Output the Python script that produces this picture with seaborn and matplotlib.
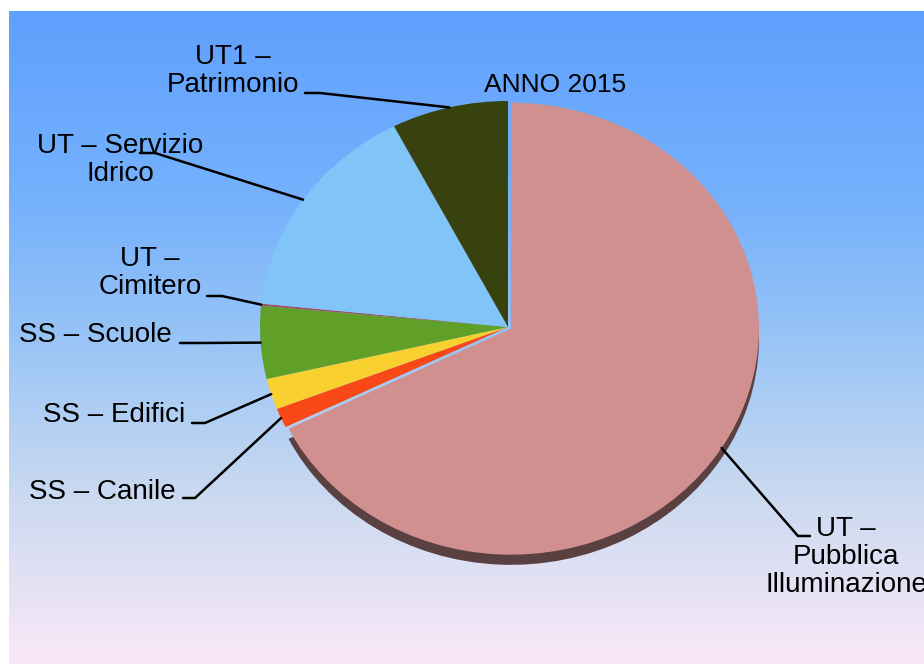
import numpy as np
import matplotlib
matplotlib.use("Agg")
import matplotlib.pyplot as plt
import seaborn as sns
from matplotlib.colors import LinearSegmentedColormap

# ---- data ----
categories = ["UT – Pubblica Illuminazione", "SS – Canile", "SS – Edifici", "SS – Scuole",
              "UT – Cimitero", "UT – Servizio Idrico", "UT1 – Patrimonio"]
labels = ["UT –\nPubblica\nIlluminazione", "SS – Canile", "SS – Edifici", "SS – Scuole",
          "UT –\nCimitero", "UT – Servizio\nIdrico", "UT1 –\nPatrimonio"]
values = [67.7, 1.4, 2.2, 5.2, 0.15, 15.75, 7.6]
colors = ["#D09090", "#F84818", "#F8D030", "#60A028", "#A05060", "#80C4F8", "#38420E"]
title = "ANNO 2015"

sns.set_theme(style="white")
plt.rcParams['font.family'] = ['Liberation Sans', 'DejaVu Sans']

W, H = 924, 664
fig = plt.figure(figsize=(W / 100, H / 100), dpi=100)
fig.patch.set_facecolor("white")

# gradient background
bg = fig.add_axes([9 / W, 0, 1 - 9 / W, 1 - 11 / H])
bg.axis("off")
cmap = LinearSegmentedColormap.from_list(
    "bg", [(0, "#5FA0FE"), (0.3, "#76B2FC"), (0.5, "#98C4F6"), (0.75, "#CCDAF0"), (1, "#FAE8F8")])
grad = np.linspace(0, 1, 256).reshape(-1, 1)
bg.imshow(grad, aspect="auto", cmap=cmap, extent=[0, 1, 0, 1], origin="upper")

# pie axes (elliptical pie)
CX, CY, RX, RY = 508, 327, 248, 226
ax = fig.add_axes([(CX - 1.5 * RX) / W, (H - CY - 1.5 * RY) / H, 3 * RX / W, 3 * RY / H])
ax.patch.set_alpha(0)

explode = [0.014] + [0] * (len(values) - 1)
shadow_cols = ["#5A4040"] + ["none"] * (len(values) - 1)
ax.pie(values, colors=shadow_cols, startangle=90, counterclock=False, explode=explode,
       center=(0.0, -0.045), wedgeprops=dict(linewidth=0))
wedges, _ = ax.pie(values, colors=colors, startangle=90, counterclock=False, explode=explode,
                   wedgeprops=dict(linewidth=0))
ax.set_aspect("auto")
ax.set_xlim(-1.5, 1.5)
ax.set_ylim(-1.5, 1.5)
ax.axis("off")


def px2d(px, py):
    return (px - CX) / RX, (CY - py) / RY


# label layout (pixel positions): text center, leader start, stub end
label_pos = [(846, 557), (102, 492), (114, 415), (95, 335), (150, 273), (120, 160), (233, 71)]
leader_start = [(810, 536), (183, 498), (192, 423), (180, 343), (207, 296), (140, 153), (305, 93)]
leader_stub = [(798, 536), (195, 498), (205, 423), (200, 343), (222, 296), (155, 153), (320, 93)]

for w, lab, tp, ls, st in zip(wedges, labels, label_pos, leader_start, leader_stub):
    t = np.deg2rad((w.theta1 + w.theta2) / 2)
    ex = w.center[0] + w.r * np.cos(t)
    ey = w.center[1] + w.r * np.sin(t)
    x0, y0 = px2d(*ls)
    x1, y1 = px2d(*st)
    ax.plot([x0, x1, ex], [y0, y1, ey], color="black", lw=1.8, clip_on=False, zorder=5)
    tx, ty = px2d(*tp)
    ax.text(tx, ty, lab, ha="center", va="center", fontsize=20, linespacing=1.1,
            color="black", clip_on=False, zorder=6)

tx, ty = px2d(555, 85)
ax.text(tx, ty, title, ha="center", va="center", fontsize=19, color="black", clip_on=False)

fig.savefig("out.png", dpi=100)
